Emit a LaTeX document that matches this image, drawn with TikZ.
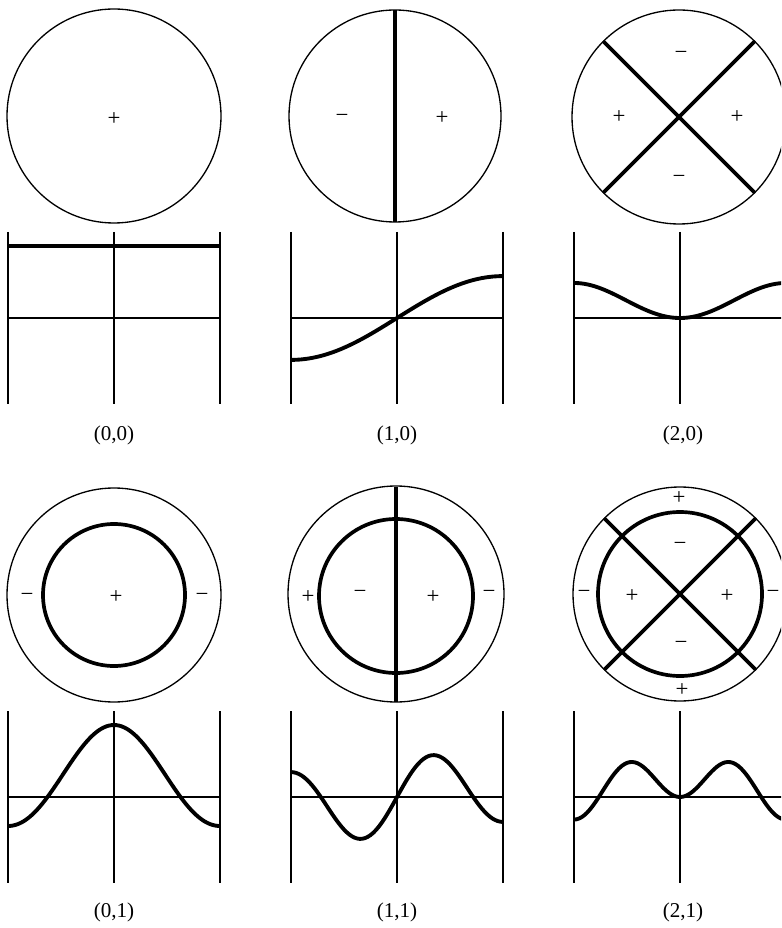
\documentclass[tikz,border=0pt]{standalone}
\usepackage{fontspec}
\setmainfont{Liberation Serif}

\begin{document}
\begin{tikzpicture}[x=0.02cm,y=-0.02cm,
  rim/.style={line width=0.75pt},
  nodal/.style={line width=2.1pt},
  axis/.style={line width=0.85pt},
  curve/.style={line width=2.2pt,smooth,samples=81,domain=-1:1},
  sgn/.style={font=\fontsize{13}{13}\selectfont,inner sep=0pt},
  tag/.style={font=\fontsize{12}{14}\selectfont,inner sep=1pt},
  declare function={
    bsum(\mm,\zz)=1-\zz/(1*(1+\mm))*(1-\zz/(2*(2+\mm))*(1-\zz/(3*(3+\mm))*(1-\zz/(4*(4+\mm))*(1-\zz/(5*(5+\mm))*(1-\zz/(6*(6+\mm))*(1-\zz/(7*(7+\mm))*(1-\zz/(8*(8+\mm))*(1-\zz/(9*(9+\mm))*(1-\zz/(10*(10+\mm)))))))))));
    Jzero(\uu)=bsum(0,\uu*\uu/4);
    Jone(\uu)=\uu/2*bsum(1,\uu*\uu/4);
    Jtwo(\uu)=\uu*\uu/8*bsum(2,\uu*\uu/4);
  }]
  \clip (0,0) rectangle (781,928);
  % Mode (0,0)
  \draw[rim] (114,116) circle (107);
  \node[sgn] (p00) at (114,119) {+};
  \draw[axis] (8,232) -- (8,404) (114,232) -- (114,404) (220,232) -- (220,404);
  \draw[axis] (8,318) -- (220,318);
  \draw[line width=2.2pt] (8,246) -- (220,246);
  \node[tag] (t00) at (114,435) {(0,0)};
  % Mode (1,0)
  \draw[rim] (395,116) circle (106);
  \draw[nodal] (395,10) -- (395,222);
  \node[sgn] (m10) at (342,118) {−};
  \node[sgn] (p10) at (442,118) {+};
  \draw[axis] (291,232) -- (291,404) (397,232) -- (397,404) (503,232) -- (503,404);
  \draw[axis] (291,318) -- (503,318);
  \draw[curve] plot ({397+106*\x},{318-72*Jone(1.8412*\x)});
  \node[tag] (t10) at (397,435) {(1,0)};
  % Mode (2,0)
  \draw[rim] (679,117) circle (107);
  \draw[nodal] (603,41) -- (755,193);
  \draw[nodal] (755,41) -- (603,193);
  \node[sgn] (m20a) at (681,55) {−};
  \node[sgn] (p20a) at (619,117) {+};
  \node[sgn] (p20b) at (737,117) {+};
  \node[sgn] (m20b) at (679,179) {−};
  \draw[axis] (574,232) -- (574,404) (680,232) -- (680,404) (786,232) -- (786,404);
  \draw[axis] (574,318) -- (786,318);
  \draw[curve] plot ({680+106*\x},{318-72*Jtwo(3.0542*\x)});
  \node[tag] (t20) at (683,435) {(2,0)};
  % Mode (0,1)
  \draw[rim] (114,595) circle (107);
  \draw[nodal] (114,595) circle (71);
  \node[sgn] (m01a) at (27,597) {−};
  \node[sgn] (p01) at (116,597) {+};
  \node[sgn] (m01b) at (202,597) {−};
  \draw[axis] (8,711) -- (8,883) (114,711) -- (114,883) (220,711) -- (220,883);
  \draw[axis] (8,797) -- (220,797);
  \draw[curve] plot ({114+106*\x},{797-72*Jzero(3.8317*\x)});
  \node[tag] (t01) at (114,912) {(0,1)};
  % Mode (1,1)
  \draw[rim] (396,594) circle (108);
  \draw[nodal] (396,596) circle (77);
  \draw[nodal] (396,487) -- (396,702);
  \node[sgn] (p11a) at (308,597) {+};
  \node[sgn] (m11a) at (360,594) {−};
  \node[sgn] (p11b) at (433,597) {+};
  \node[sgn] (m11b) at (489,594) {−};
  \draw[axis] (291,711) -- (291,883) (397,711) -- (397,883) (503,711) -- (503,883);
  \draw[axis] (291,797) -- (503,797);
  \draw[curve] plot ({397+106*\x},{797-72*Jone(5.3314*\x)});
  \node[tag] (t11) at (397,912) {(1,1)};
  % Mode (2,1)
  \draw[rim] (680,594) circle (107);
  \draw[nodal] (680,594) circle (82);
  \draw[nodal] (604,518) -- (756,670);
  \draw[nodal] (756,518) -- (604,670);
  \node[sgn] (p21a) at (679,498) {+};
  \node[sgn] (m21a) at (680,546) {−};
  \node[sgn] (p21b) at (632,596) {+};
  \node[sgn] (p21c) at (727,596) {+};
  \node[sgn] (m21b) at (681,645) {−};
  \node[sgn] (p21d) at (682,690) {+};
  \node[sgn] (m21c) at (584,594) {−};
  \node[sgn] (m21d) at (773,594) {−};
  \draw[axis] (574,711) -- (574,883) (680,711) -- (680,883) (786,711) -- (786,883);
  \draw[axis] (574,797) -- (786,797);
  \draw[curve] plot ({680+106*\x},{797-72*Jtwo(6.7061*\x)});
  \node[tag] (t21) at (683,912) {(2,1)};
\end{tikzpicture}
\end{document}
